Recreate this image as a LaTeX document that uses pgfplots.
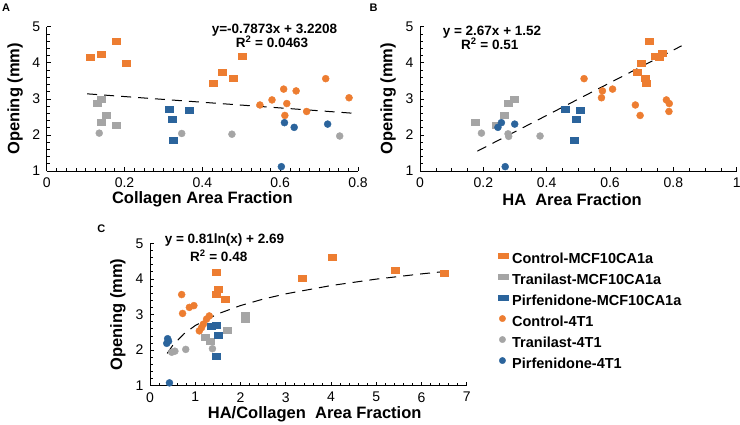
\documentclass[border=0pt]{standalone}
\usepackage{pgfplots}
\pgfplotsset{compat=1.18}
\usepackage{fontspec}
\setmainfont{Liberation Sans}
\definecolor{cOrange}{HTML}{ED7D31}
\definecolor{cGray}{HTML}{A5A5A5}
\definecolor{cBlue}{HTML}{2B649C}
\pgfplotsset{
  panel/.style={
    scale only axis, clip=false,
    axis lines=left, axis line style={-, line width=0.8bp, black},
    tick align=inside, major tick length=4bp, minor tick length=3bp,
    tick style={black, line width=0.6bp},
    ymin=1, ymax=5, ytick={1,2,3,4,5}, minor y tick num=4,
    tick label style={font=\fontsize{14bp}{16bp}\selectfont},
    xticklabel style={yshift=-3bp},
    yticklabel style={xshift=-3bp},
    label style={font=\bfseries\fontsize{16.5bp}{19bp}\selectfont},
    /pgf/number format/assume math mode=true,
    ylabel={Opening (mm)},
    ylabel style={at={(axis description cs:-0.101,0.5)}, anchor=center, rotate=0},
  },
  sqO/.style={only marks, mark=square*, mark size=3bp, color=cOrange, mark options={xscale=1.33, draw=none, fill=cOrange}},
  sqG/.style={only marks, mark=square*, mark size=3bp, color=cGray, mark options={xscale=1.33, draw=none, fill=cGray}},
  sqB/.style={only marks, mark=square*, mark size=3bp, color=cBlue, mark options={xscale=1.33, draw=none, fill=cBlue}},
  ciO/.style={only marks, mark=*, mark size=3.5bp, color=cOrange, mark options={draw=none, fill=cOrange}},
  ciG/.style={only marks, mark=*, mark size=3.5bp, color=cGray, mark options={draw=none, fill=cGray}},
  ciB/.style={only marks, mark=*, mark size=3.5bp, color=cBlue, mark options={draw=none, fill=cBlue}},
  trend/.style={black, line width=1bp, dash pattern=on 10bp off 7bp, mark=none},
}
\begin{document}
\begin{tikzpicture}[x=1bp,y=1bp]
\useasboundingbox (0,0) rectangle (740,424);
% Panel A
\begin{axis}[panel, at={(46.7bp,253bp)}, anchor=south west,
  width=311.3bp, height=144.3bp,
  xmin=0, xmax=0.8, xtick={0,0.2,0.4,0.6,0.8}, minor x tick num=7,
  xlabel={Collagen Area Fraction},
  xlabel style={at={(axis description cs:0.5,-0.197)}, anchor=center}]
\addplot[trend] coordinates {(0.104,3.139) (0.795,2.595)};
\addplot[sqO] coordinates {(0.113,4.16) (0.139,4.25) (0.178,4.60) (0.204,4.00) (0.427,3.44) (0.450,3.73) (0.479,3.57) (0.502,4.19)};
\addplot[sqG] coordinates {(0.131,2.87) (0.139,3.00) (0.154,2.56) (0.139,2.36) (0.178,2.27)};
\addplot[sqB] coordinates {(0.314,2.71) (0.322,2.44) (0.367,2.68) (0.324,1.84)};
\addplot[ciO] coordinates {(0.548,2.83) (0.579,2.97) (0.609,3.27) (0.641,3.22) (0.617,2.87) (0.612,2.54) (0.668,2.65) (0.717,3.56) (0.777,3.03)};
\addplot[ciG] coordinates {(0.135,2.05) (0.347,2.04) (0.476,2.02) (0.753,1.97)};
\addplot[ciB] coordinates {(0.611,2.34) (0.636,2.21) (0.722,2.30) (0.603,1.12)};
\end{axis}
% Panel B
\begin{axis}[panel, at={(420bp,253bp)}, anchor=south west,
  width=316.7bp, height=144.3bp,
  xmin=0, xmax=1, xtick={0,0.2,0.4,0.6,0.8,1}, minor x tick num=3,
  xlabel={HA\ \ Area Fraction},
  xlabel style={at={(axis description cs:0.48,-0.197)}, anchor=center}]
\addplot[trend] coordinates {(0.181,1.55) (0.826,4.47)};
\addplot[sqO] coordinates {(0.724,4.60) (0.697,4.00) (0.687,3.73) (0.711,3.56) (0.715,3.44) (0.744,4.19) (0.765,4.26) (0.756,4.15)};
\addplot[sqG] coordinates {(0.174,2.36) (0.240,2.27) (0.266,2.56) (0.280,2.87) (0.296,3.00)};
\addplot[sqB] coordinates {(0.458,2.71) (0.492,2.44) (0.507,2.68) (0.486,1.84)};
\addplot[ciO] coordinates {(0.518,3.56) (0.576,3.22) (0.573,3.03) (0.608,3.27) (0.680,2.83) (0.695,2.54) (0.778,2.97) (0.787,2.87) (0.786,2.65)};
\addplot[ciG] coordinates {(0.194,2.05) (0.278,2.03) (0.280,1.96) (0.379,1.97)};
\addplot[ciB] coordinates {(0.246,2.21) (0.257,2.34) (0.299,2.30) (0.269,1.12)};
\end{axis}
% Panel C
\begin{axis}[panel, at={(150bp,38.3bp)}, anchor=south west,
  width=316.7bp, height=142.4bp,
  xmin=0, xmax=7, xtick={0,1,2,3,4,5,6,7}, minor x tick num=4,
  xlabel={HA/Collagen\ \ Area Fraction},
  xlabel style={at={(axis description cs:0.52,-0.2)}, anchor=center},
  legend style={at={(axis description cs:1.099,0.94)}, anchor=north west,
    draw=none, fill=none, inner sep=0pt, row sep=7bp,
    font=\bfseries\fontsize{14.5bp}{16bp}\selectfont,
    nodes={text height=11bp, text depth=3bp, inner ysep=0pt, inner xsep=3.5bp}},
  legend cell align=left]
\addplot[trend, forget plot] coordinates {(0.38,1.906) (0.5,2.129) (0.75,2.457) (1,2.69) (1.5,3.018) (2,3.251) (2.5,3.432) (3,3.580) (4,3.813) (5,3.994) (6,4.141) (6.5,4.206)};
\addplot[sqO, legend image code/.code={\fill[cOrange] (0bp,1bp) rectangle (10bp,6bp);}] coordinates {(1.46,4.19) (1.51,3.72) (1.46,3.56) (1.66,3.44) (3.36,4.01) (4.02,4.61) (5.42,4.25) (6.50,4.17)};
\addlegendentry{Control-MCF10CA1a}
\addplot[sqG, legend image code/.code={\fill[cGray] (0bp,1bp) rectangle (10bp,6bp);}] coordinates {(2.10,2.97) (2.10,2.86) (1.71,2.56) (1.22,2.35) (1.34,2.25)};
\addlegendentry{Tranilast-MCF10CA1a}
\addplot[sqB, legend image code/.code={\fill[cBlue] (0bp,1bp) rectangle (10bp,6bp);}] coordinates {(1.36,2.68) (1.46,2.70) (1.50,2.43) (1.47,1.82)};
\addlegendentry{Pirfenidone-MCF10CA1a}
\addplot[ciO, legend image code/.code={\fill[cOrange] (4bp,3.5bp) circle (3.2bp); \path (0bp,0bp) (9bp,0bp);}] coordinates {(0.70,3.56) (0.72,3.03) (0.87,3.20) (0.97,3.25) (1.31,2.96) (1.25,2.87) (1.18,2.73) (1.14,2.63) (1.09,2.54)};
\addlegendentry{Control-4T1}
\addplot[ciG, legend image code/.code={\fill[cGray] (4bp,3.5bp) circle (3.2bp); \path (0bp,0bp) (9bp,0bp);}] coordinates {(0.48,1.94) (0.55,1.97) (0.79,2.02) (1.38,2.04)};
\addlegendentry{Tranilast-4T1}
\addplot[ciB, legend image code/.code={\fill[cBlue] (4bp,3.5bp) circle (3.2bp); \path (0bp,0bp) (9bp,0bp);}] coordinates {(0.39,2.32) (0.37,2.19) (0.41,2.25) (0.43,1.08)};
\addlegendentry{Pirfenidone-4T1}
\end{axis}
% texts
\begin{scope}[every node/.style={font=\bfseries\fontsize{13.5bp}{15bp}\selectfont, inner sep=0pt}]
\node at (274.5,{424-30.5}) {y=-0.7873x + 3.2208};
\node at (272,{424-42}) {R\textsuperscript{2} = 0.0463};
\node at (492,{424-32}) {y = 2.67x + 1.52};
\node at (489.7,{424-43.8}) {R\textsuperscript{2} = 0.51};
\node at (224.5,{424-240}) {y = 0.81ln(x) + 2.69};
\node at (218.7,{424-255.8}) {R\textsuperscript{2} = 0.48};
\end{scope}
\begin{scope}[every node/.style={font=\bfseries\fontsize{11bp}{13bp}\selectfont, inner sep=0pt}]
\node at (6,{424-8}) {A};
\node at (373.5,{424-8}) {B};
\node at (101.3,{424-229}) {C};
\end{scope}
\end{tikzpicture}
\end{document}
